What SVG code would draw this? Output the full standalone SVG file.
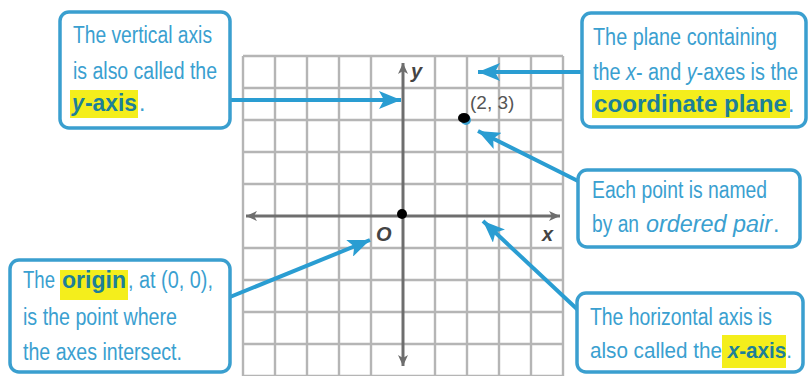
<svg xmlns="http://www.w3.org/2000/svg" width="810" height="376" viewBox="0 0 810 376">
<style>
.box{fill:#fff;stroke:#3a9fcf;stroke-width:3.5}
.t{font-family:"Liberation Sans",Arial,sans-serif;font-size:23px;fill:#3aa0d0}
.b{font-weight:bold;fill:#1d8098}
.i{font-style:italic}
.hl{fill:#f4ee1c}
.grid{stroke:#b5b5b5;stroke-width:2.4;fill:none}
.axis{stroke:#6e6e6e;stroke-width:3;fill:none}
.lbl{font-family:"Liberation Sans",Arial,sans-serif;font-weight:bold;font-style:italic;font-size:20px;fill:#444}
.conn{stroke:#2a9dd2;stroke-width:4;fill:none;marker-end:url(#ah)}
</style>
<defs>
<marker id="ah" markerUnits="userSpaceOnUse" markerWidth="24" markerHeight="18" refX="22" refY="9" orient="auto">
<path d="M0,0 L22,9 L0,18 L5,9 Z" fill="#2a9dd2"/>
</marker>
<marker id="gah" markerUnits="userSpaceOnUse" markerWidth="12" markerHeight="10" refX="11" refY="5" orient="auto">
<path d="M0,0 L11,5 L0,10 L3,5 Z" fill="#6e6e6e"/>
</marker>
</defs>
<rect width="810" height="376" fill="#fff"/>
<g id="grid">
<path class="grid" d="M243,56V376M275,56V376M307,56V376M339,56V376M371,56V376M435,56V376M467,56V376M499,56V376M531,56V376M563,56V376M243,56H563M243,88H563M243,120H563M243,152H563M243,184H563M243,248H563M243,280H563M243,312H563M243,344H563M243,376H563"/>
<line class="axis" x1="403" y1="216" x2="403" y2="63" marker-end="url(#gah)"/>
<line class="axis" x1="403" y1="216" x2="403" y2="366" marker-end="url(#gah)"/>
<line class="axis" x1="403" y1="216" x2="560" y2="216" marker-end="url(#gah)"/>
<line class="axis" x1="403" y1="216" x2="246" y2="216" marker-end="url(#gah)"/>
<text class="lbl" x="411" y="78">y</text>
<text class="lbl" x="376" y="241">O</text>
<text class="lbl" x="542" y="241">x</text>
<circle cx="402" cy="214" r="5" fill="#000"/>
<ellipse cx="466" cy="120" rx="5" ry="5" fill="#3aa0d0"/>
<ellipse cx="464" cy="118" rx="6" ry="5" fill="#000"/>
<text x="470" y="109" font-family="Liberation Sans,Arial,sans-serif" font-size="19" fill="#555">(2, 3)</text>
</g>
<g id="connectors">
<line class="conn" x1="230" y1="100" x2="401" y2="100"/>
<line class="conn" x1="582" y1="72" x2="478" y2="72"/>
<line class="conn" x1="580" y1="182" x2="478" y2="131"/>
<line class="conn" x1="230" y1="297" x2="370" y2="240"/>
<line class="conn" x1="578" y1="310" x2="483" y2="221"/>
</g>
<g id="box-y-axis">
<rect class="box" x="60" y="12" width="170" height="116" rx="9"/>
<text class="t" x="73" y="43" textLength="139" lengthAdjust="spacingAndGlyphs">The vertical axis</text>
<text class="t" x="73" y="79" textLength="144" lengthAdjust="spacingAndGlyphs">is also called the</text>
<rect class="hl" x="70" y="90" width="68" height="28"/>
<text class="t b i" x="72" y="111" textLength="12" lengthAdjust="spacingAndGlyphs">y</text>
<text class="t b" x="85" y="111" textLength="52" lengthAdjust="spacingAndGlyphs">-axis</text>
<text class="t" x="139" y="111">.</text>
</g>
<g id="box-plane">
<rect class="box" x="582" y="13" width="224" height="114" rx="9"/>
<text class="t" x="593" y="45" textLength="184" lengthAdjust="spacingAndGlyphs">The plane containing</text>
<text class="t" transform="translate(593,80) scale(0.862,1)">the <tspan class="i">x</tspan>- and <tspan class="i">y</tspan>-axes is the</text>
<rect class="hl" x="592" y="90" width="198" height="28"/>
<text class="t b" x="594" y="112" textLength="193" lengthAdjust="spacingAndGlyphs">coordinate plane</text>
<text class="t" x="788" y="112">.</text>
</g>
<g id="box-ordered-pair">
<rect class="box" x="578" y="170" width="222" height="77" rx="9"/>
<text class="t" x="592" y="198" textLength="175" lengthAdjust="spacingAndGlyphs">Each point is named</text>
<text class="t" x="592" y="232" textLength="47" lengthAdjust="spacingAndGlyphs">by an</text>
<text class="t i" x="646" y="232" textLength="126" lengthAdjust="spacingAndGlyphs">ordered pair</text>
<text class="t" x="773" y="232">.</text>
</g>
<g id="box-origin">
<rect class="box" x="10" y="260" width="220" height="112" rx="9"/>
<rect class="hl" x="60" y="270" width="68" height="30"/>
<text class="t" x="23" y="288" textLength="32" lengthAdjust="spacingAndGlyphs">The</text>
<text class="t b" x="62" y="288" textLength="64" lengthAdjust="spacingAndGlyphs">origin</text>
<text class="t" x="128" y="288" textLength="85" lengthAdjust="spacingAndGlyphs">, at (0, 0),</text>
<text class="t" x="23" y="325" textLength="154" lengthAdjust="spacingAndGlyphs">is the point where</text>
<text class="t" x="23" y="360" textLength="159" lengthAdjust="spacingAndGlyphs">the axes intersect.</text>
</g>
<g id="box-x-axis">
<rect class="box" x="577" y="293" width="226" height="79" rx="9"/>
<text class="t" x="590" y="325" textLength="182" lengthAdjust="spacingAndGlyphs">The horizontal axis is</text>
<rect class="hl" x="722" y="335" width="64" height="33"/>
<text class="t" transform="translate(590,358) scale(0.898,1)">also called the <tspan class="b"><tspan class="i">x</tspan>-axis</tspan>.</text>
</g>
</svg>
